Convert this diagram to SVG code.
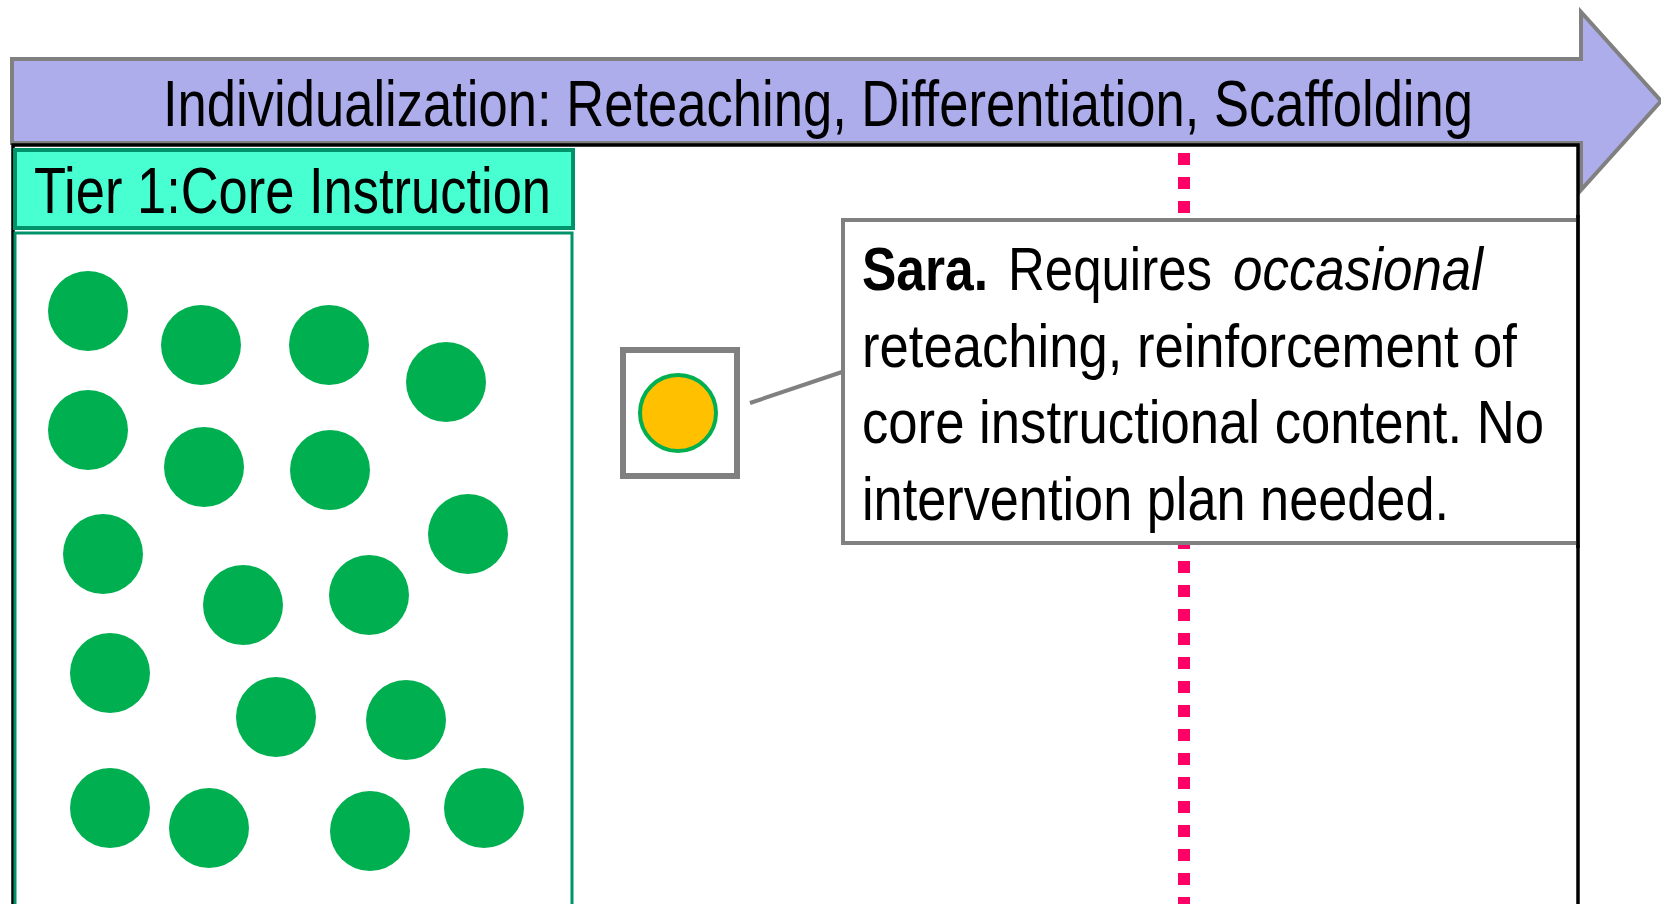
<svg xmlns="http://www.w3.org/2000/svg" width="1661" height="904" viewBox="0 0 1661 904">
<style>
.t{font-family:"Liberation Sans Narrow","Arial Narrow","Liberation Sans",sans-serif;fill:#000}
.dot{fill:#00B050}
</style>
<rect width="1661" height="904" fill="#fff"/>
<g id="band">
<polygon points="12,59 1581,59 1581,12 1661,101 1581,190 1581,143 12,143" fill="#ADADEB" stroke="#808080" stroke-width="4"/>
<text class="t" x="163" y="126" font-size="64" textLength="1310" lengthAdjust="spacingAndGlyphs">Individualization: Reteaching, Differentiation, Scaffolding</text>
</g>
<g id="frame">
<rect x="13" y="145" width="1565" height="800" fill="#fff" stroke="#000" stroke-width="3.5"/>
</g>
<g id="divider">
<line x1="1184" y1="153" x2="1184" y2="904" stroke="#FF0066" stroke-width="12" stroke-dasharray="12 12"/>
</g>
<g id="tier1-header">
<rect x="15" y="150" width="558" height="78" fill="#48FFD2" stroke="#00936B" stroke-width="4"/>
<text class="t" x="34" y="213" font-size="64" textLength="517" lengthAdjust="spacingAndGlyphs">Tier 1:Core Instruction</text>
</g>
<g id="tier1-box">
<rect x="15" y="233" width="557" height="700" fill="none" stroke="#00936B" stroke-width="3"/>
<circle class="dot" cx="88" cy="311" r="40"/>
<circle class="dot" cx="201" cy="345" r="40"/>
<circle class="dot" cx="329" cy="345" r="40"/>
<circle class="dot" cx="446" cy="382" r="40"/>
<circle class="dot" cx="88" cy="430" r="40"/>
<circle class="dot" cx="204" cy="467" r="40"/>
<circle class="dot" cx="330" cy="470" r="40"/>
<circle class="dot" cx="468" cy="534" r="40"/>
<circle class="dot" cx="103" cy="554" r="40"/>
<circle class="dot" cx="243" cy="605" r="40"/>
<circle class="dot" cx="369" cy="595" r="40"/>
<circle class="dot" cx="110" cy="673" r="40"/>
<circle class="dot" cx="276" cy="717" r="40"/>
<circle class="dot" cx="406" cy="720" r="40"/>
<circle class="dot" cx="110" cy="808" r="40"/>
<circle class="dot" cx="209" cy="828" r="40"/>
<circle class="dot" cx="370" cy="831" r="40"/>
<circle class="dot" cx="484" cy="808" r="40"/>
</g>
<g id="connectors">
<line x1="750" y1="403" x2="842" y2="372" stroke="#808080" stroke-width="4"/>
</g>
<g id="sara-marker">
<rect x="623" y="350" width="114" height="126" fill="#fff" stroke="#808080" stroke-width="6"/>
<circle cx="678" cy="413" r="38" fill="#FFC000" stroke="#00B050" stroke-width="4"/>
</g>
<g id="sara-note">
<rect x="843" y="220" width="735" height="323" fill="#fff" stroke="#808080" stroke-width="4"/>
<line x1="1578" y1="215" x2="1578" y2="548" stroke="#000" stroke-width="3.5"/>
<text class="t" x="862" y="290" font-size="62" font-weight="bold" textLength="126" lengthAdjust="spacingAndGlyphs">Sara.</text>
<text class="t" x="1008" y="290" font-size="62" textLength="204" lengthAdjust="spacingAndGlyphs">Requires</text>
<text class="t" x="1233" y="290" font-size="62" font-style="italic" textLength="250" lengthAdjust="spacingAndGlyphs">occasional</text>
<text class="t" x="862" y="367" font-size="62" textLength="655" lengthAdjust="spacingAndGlyphs">reteaching, reinforcement of</text>
<text class="t" x="862" y="443" font-size="62" textLength="682" lengthAdjust="spacingAndGlyphs">core instructional content. No</text>
<text class="t" x="862" y="520" font-size="62" textLength="587" lengthAdjust="spacingAndGlyphs">intervention plan needed.</text>
</g>
</svg>
